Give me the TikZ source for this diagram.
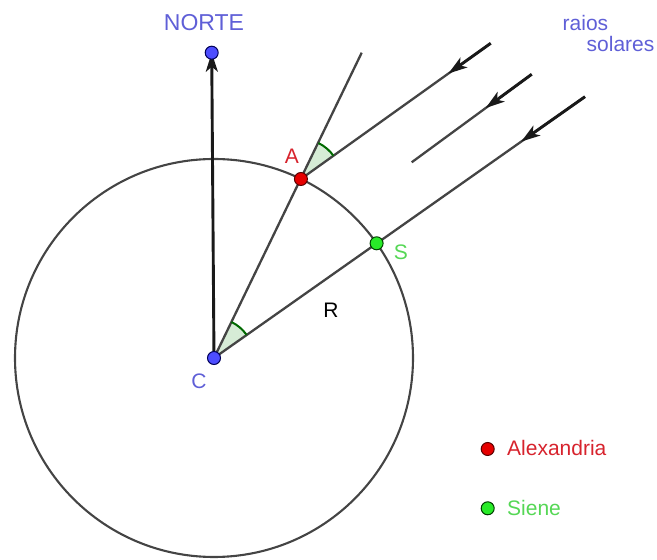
\documentclass[tikz,border=0pt]{standalone}
\usepackage{fontspec}
\setmainfont{Liberation Sans}
\usetikzlibrary{arrows.meta,calc}
\definecolor{linegray}{RGB}{68,68,68}
\definecolor{labblue}{RGB}{95,95,215}
\definecolor{dotblue}{RGB}{77,77,255}
\definecolor{dotred}{RGB}{230,0,0}
\definecolor{labred}{RGB}{215,35,45}
\definecolor{dotgreen}{RGB}{40,235,40}
\definecolor{labgreen}{RGB}{85,215,85}
\definecolor{angfill}{RGB}{214,236,214}
\definecolor{angline}{RGB}{0,105,0}
\tikzset{
  geoline/.style={draw=linegray, line width=2.3pt},
  vecline/.style={draw=black!90, line width=2.9pt, -{Stealth[length=19pt,width=12pt,inset=5pt]}},
  ptdot/.style={circle, inner sep=0pt, minimum size=13pt, line width=1pt},
  lab/.style={inner sep=0pt, font=\fontsize{21}{25}\selectfont},
  angfillst/.style={fill=angfill},
  anglinest/.style={draw=angline, line width=2pt},
}
\begin{document}
\begin{tikzpicture}[x=1pt,y=1pt]
\useasboundingbox (0,0) rectangle (657,560);
% points
\coordinate (C) at (214,202);
\coordinate (A) at ($(C)+(64.1:199pt)$);
\coordinate (S) at ($(C)+(35.2:199pt)$);
\coordinate (CAtop) at (361.7,507.3);
\coordinate (R3top) at (585,463.3);
\coordinate (R1top) at (490.7,516.7);
\coordinate (R2top) at (531.7,485.7);
\coordinate (R2end) at (411.7,397.7);
\coordinate (N) at (211.7,507.3);
\coordinate (R1tip) at ($(R1top)!52pt!(A)$);
\coordinate (R2tip) at ($(R2top)!57pt!(R2end)$);
\coordinate (R3tip) at ($(R3top)!78pt!(S)$);
% circle
\draw[draw=linegray, line width=2.1pt] (C) circle[radius=199pt];
% angle sectors (fill)
\fill[angfillst] (C) -- ($(C)+(35.2:40pt)$) arc[start angle=35.2, end angle=64.1, radius=40pt] -- cycle;
\fill[angfillst] (A) -- ($(A)+(35.56:40pt)$) arc[start angle=35.56, end angle=64.1, radius=40pt] -- cycle;
% lines
\draw[geoline] (C) -- (CAtop);
\draw[geoline] (C) -- (R3top);
\draw[geoline] (R1top) -- (A);
\draw[geoline] (R2top) -- (R2end);
% angle arcs
\draw[anglinest] ($(C)+(35.2:40pt)$) arc[start angle=35.2, end angle=64.1, radius=40pt];
\draw[anglinest] ($(A)+(35.56:40pt)$) arc[start angle=35.56, end angle=64.1, radius=40pt];
% vectors
\draw[vecline] (C) -- (N);
\draw[vecline] (R1top) -- (R1tip);
\draw[vecline] (R2top) -- (R2tip);
\draw[vecline] (R3top) -- (R3tip);
% dots
\node[ptdot, fill=dotblue, draw=blue!35!black] (Ndot) at (N) {};
\node[ptdot, fill=dotblue, draw=blue!35!black] (Cdot) at (C) {};
\node[ptdot, fill=dotred, draw=red!35!black] (Adot) at (A) {};
\node[ptdot, fill=dotgreen, draw=green!25!black] (Sdot) at (S) {};
% labels
\node[lab, text=labblue, font=\fontsize{23}{27}\selectfont] (norte) at (204,537) {NORTE};
\node[lab, text=labblue, anchor=west] (raios) at (562.5,537.5) {raios};
\node[lab, text=labblue, anchor=west] (solares) at (586.5,516) {solares};
\node[lab, text=labred] (Alab) at (292,404) {A};
\node[lab, text=labgreen] (Slab) at (401,308) {S};
\node[lab, text=labblue] (Clab) at (199,179) {C};
\node[lab, text=black] (Rlab) at (331,250) {R};
% legend
\node[ptdot, fill=dotred, draw=red!35!black] (legA) at (487.7,111) {};
\node[lab, text=labred, anchor=west] (legAtext) at (507,112) {Alexandria};
\node[ptdot, fill=dotgreen, draw=green!25!black] (legS) at (487.7,51.7) {};
\node[lab, text=labgreen, anchor=west] (legStext) at (507,52.5) {Siene};
\end{tikzpicture}
\end{document}
